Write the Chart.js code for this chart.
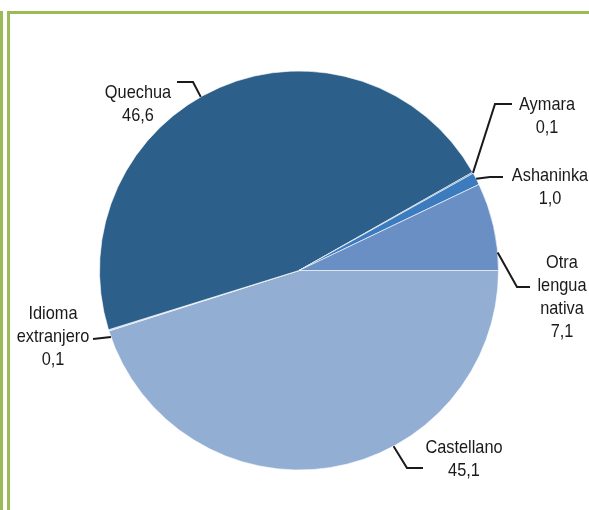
<!DOCTYPE html>
<html>
<head>
<meta charset="utf-8">
<script src="https://cdn.jsdelivr.net/npm/chart.js@4/dist/chart.umd.min.js"></script>
<style>
  html, body { margin: 0; padding: 0; background: #fff; }
  #wrap { position: relative; width: 589px; height: 510px; overflow: hidden; }
  #frameA { position: absolute; left: -17px; top: 11px; width: 20px; height: 520px;
            border-top: 3px solid #9BBB59; border-right: 3px solid #9BBB59; box-sizing: border-box; }
  #frameB { position: absolute; left: 7px; top: 11px; width: 600px; height: 520px;
            border-top: 3px solid #9BBB59; border-left: 3px solid #9BBB59; box-sizing: border-box; }
  canvas { position: absolute; left: 0; top: 0; }
</style>
</head>
<body>
<div id="wrap">
  <div id="frameA"></div>
  <div id="frameB"></div>
  <canvas id="c" width="589" height="510"></canvas>
</div>
<script>
const categories = ['Castellano', 'Idioma extranjero', 'Quechua', 'Aymara', 'Ashaninka', 'Otra lengua nativa'];
const labelLines = [['Castellano'], ['Idioma', 'extranjero'], ['Quechua'], ['Aymara'], ['Ashaninka'], ['Otra', 'lengua', 'nativa']];
const values = [45.1, 0.1, 46.6, 0.1, 1.0, 7.1];
const colors = ['#93AED3', '#B8CAE3', '#2D5F8B', '#3F74AE', '#3B7BBE', '#6A8FC5'];

// label layout: edge angle (deg, clockwise from east), leader path points after the edge, text centre
const labelLayout = [
  { edge: 61.7,  path: [[407, 468], [423, 468]], text: [464, 448] },
  { edge: 160.5, path: [[93, 339]], text: [53, 314] },
  { edge: 240.5, path: [[193, 82], [177, 82]], text: [138, 93] },
  { edge: 330.7, path: [[495, 104], [512, 104]], text: [547, 105] },
  { edge: 332.6, path: [[490, 177], [503, 177]], text: [550, 176] },
  { edge: 354.8, path: [[517, 287], [530, 287]], text: [562, 263] }
];

const FONT = '"Liberation Sans", Arial, sans-serif';
const SQUEEZE = 0.86;

const labelPlugin = {
  id: 'leaderLabels',
  afterDraw(chart) {
    const ctx = chart.ctx;
    const meta = chart.getDatasetMeta(0);
    meta.data.forEach((arc, i) => {
      const lay = labelLayout[i];
      const a = lay.edge * Math.PI / 180;
      const ex = arc.x + Math.cos(a) * arc.outerRadius;
      const ey = arc.y + Math.sin(a) * arc.outerRadius;
      ctx.save();
      ctx.beginPath();
      ctx.moveTo(ex, ey);
      lay.path.forEach(p => ctx.lineTo(p[0], p[1]));
      ctx.strokeStyle = '#1a1a1a';
      ctx.lineWidth = 2;
      ctx.lineJoin = 'miter';
      ctx.stroke();
      ctx.restore();
      const lines = labelLines[i].concat([values[i].toFixed(1).replace('.', ',')]);
      ctx.save();
      ctx.fillStyle = '#1a1a1a';
      ctx.font = '19px ' + FONT;
      ctx.textAlign = 'center';
      ctx.textBaseline = 'middle';
      ctx.scale(SQUEEZE, 1);
      lines.forEach((t, k) => ctx.fillText(t, lay.text[0] / SQUEEZE, lay.text[1] + k * 23));
      ctx.restore();
    });
  }
};

new Chart(document.getElementById('c'), {
  type: 'pie',
  data: {
    labels: categories,
    datasets: [{
      data: values,
      backgroundColor: colors,
      borderColor: 'rgba(255,255,255,0.6)',
      borderWidth: 1
    }]
  },
  options: {
    responsive: false,
    animation: false,
    rotation: 90,
    layout: { padding: { left: 99, right: 90, top: 70, bottom: 39 } },
    plugins: { legend: { display: false }, tooltip: { enabled: false } }
  },
  plugins: [labelPlugin]
});
</script>
</body>
</html>
